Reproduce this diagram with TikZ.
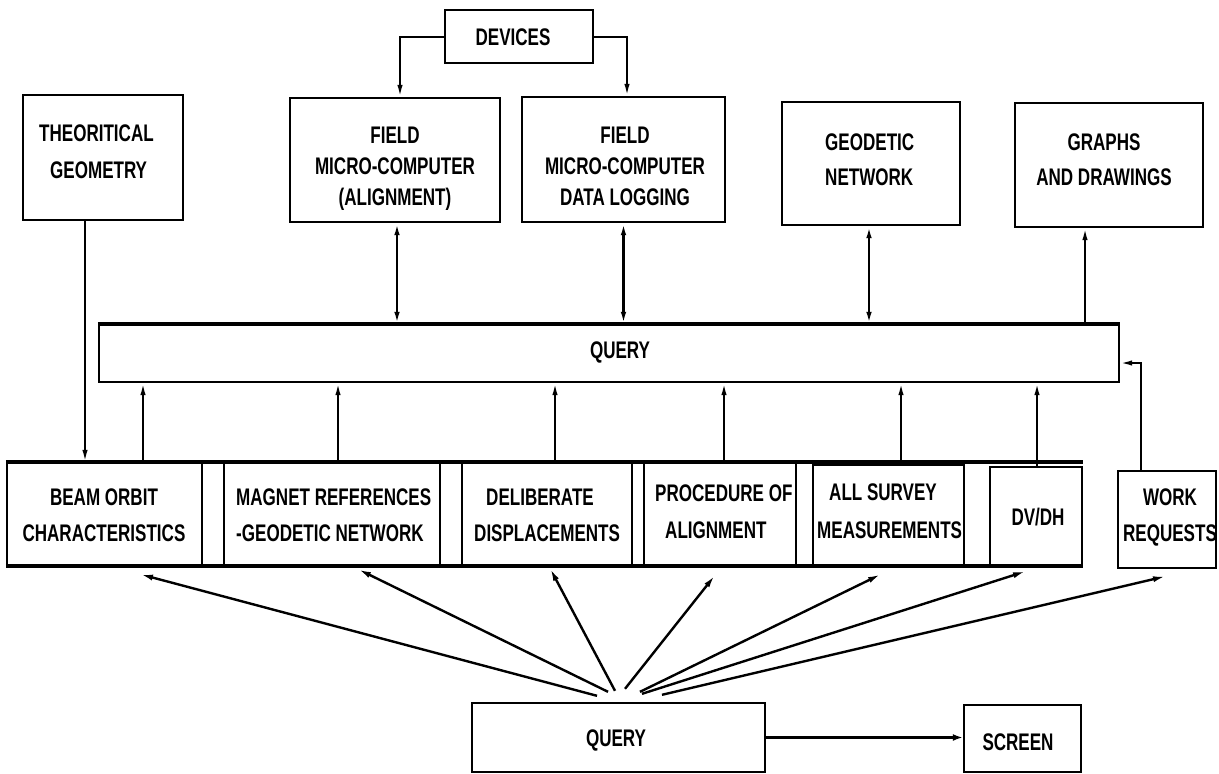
\documentclass[tikz,border=0pt]{standalone}
\usepackage{fontspec}
\setmainfont{Liberation Sans}
\newfontfamily\plot[FakeStretch=0.71]{Liberation Sans}
\newcommand\pf[1]{\fontsize{24pt}{#1pt}\selectfont\plot\bfseries}
\usetikzlibrary{arrows.meta,calc}
\begin{document}
\begin{tikzpicture}[x=1pt,y=-1pt,
  box/.style={draw,line width=2.4pt,inner sep=0pt},
  txt/.style={inner sep=0pt,font=\pf{36}},
  arr/.style={-{Latex[length=12pt,width=5.5pt]},line width=2pt},
  darr/.style={{Latex[length=12pt,width=5.5pt]}-{Latex[length=12pt,width=5.5pt]},line width=2.2pt},
  fan/.style={-{Latex[length=13pt,width=6pt]},line width=2.4pt},
  heavy/.style={line width=3.8pt}]
\useasboundingbox (0,0) rectangle (1219,774);

% top row
\node[box,minimum width=148pt,minimum height=53pt] (dev) at (519,36.5) {};
\node[txt] (devT) at (513,37) {DEVICES};

\node[box,minimum width=160pt,minimum height=125pt] (theo) at (103,157.5) {};
\node[txt,anchor=north west,align=left,font=\pf{37}] (theoT) at (39,124.5) {THEORITICAL\\\hspace*{11pt}GEOMETRY};

\node[box,minimum width=210pt,minimum height=124pt] (f1) at (395,160) {};
\node[txt,anchor=north,align=center,font=\pf{31}] (f1T) at (395,126.5) {FIELD\\MICRO-COMPUTER\\(ALIGNMENT)};

\node[box,minimum width=203pt,minimum height=125pt] (f2) at (623.5,159.5) {};
\node[txt,anchor=north,align=center,font=\pf{31}] (f2T) at (625,126.5) {FIELD\\MICRO-COMPUTER\\DATA LOGGING};

\node[box,minimum width=178pt,minimum height=123pt] (geo) at (871,163.5) {};
\node[txt,anchor=north west,align=left,font=\pf{35}] (geoT) at (825,133.5) {GEODETIC\\NETWORK};

\node[box,minimum width=188pt,minimum height=124pt] (gr) at (1109,165) {};
\node[txt,anchor=north,align=center,font=\pf{35}] (grT) at (1104,133.5) {GRAPHS\\AND DRAWINGS};

% query bar
\node[box,minimum width=1020pt,minimum height=57pt] (bar) at (609,353.5) {};
\draw[line width=4.2pt] (bar.north west) -- (bar.north east);
\node[txt] (barT) at (620,352) {QUERY};

% bottom row
\node[box,minimum width=195pt,minimum height=102pt] (beam) at (104.5,514) {};
\node[txt,anchor=north,align=center] (beamT) at (104,488.5) {BEAM ORBIT\\CHARACTERISTICS};

\node[box,minimum width=216pt,minimum height=102pt] (mag) at (332,514) {};
\node[txt,anchor=north west,align=left] (magT) at (236,488.5) {MAGNET REFERENCES\\-GEODETIC NETWORK};

\node[box,minimum width=170pt,minimum height=102pt] (del) at (547,514) {};
\node[txt,anchor=north west,align=left] (delT) at (474,488.5) {\hspace*{12pt}DELIBERATE\\DISPLACEMENTS};

\node[box,minimum width=152pt,minimum height=102pt] (proc) at (720,514) {};
\node[txt,anchor=north west,align=left,font=\pf{37}] (procT) at (655,484.5) {PROCEDURE OF\\\hspace*{10pt}ALIGNMENT};

\node[box,minimum width=151pt,minimum height=102pt] (surv) at (888.5,516) {};
\node[txt,anchor=north west,align=left,font=\pf{38}] (survT) at (817,483.5) {\hspace*{12pt}ALL SURVEY\\MEASUREMENTS};

\node[box,minimum width=92pt,minimum height=100pt] (dvdh) at (1036,517) {};
\node[txt] (dvdhT) at (1038,517) {DV/DH};

\node[box,minimum width=98pt,minimum height=97pt] (work) at (1167,519.5) {};
\node[txt,anchor=north,align=center] (workT) at (1170,488.5) {WORK\\REQUESTS};

\draw[heavy] (beam.north west) -- (beam.north west -| dvdh.east);
\draw[heavy] (beam.south west) -- (beam.south west -| dvdh.east);

% bottom query and screen
\node[box,minimum width=293pt,minimum height=69pt] (qb) at (618.5,737.5) {};
\node[txt] (qbT) at (616,740) {QUERY};
\node[box,minimum width=117pt,minimum height=67pt] (scr) at (1022.5,738.5) {};
\node[txt] (scrT) at (1018,742) {SCREEN};

% connectors top
\draw[arr] (dev.west) -| ([xshift=5pt]f1.north);
\draw[arr] (dev.east) -| ([xshift=3.5pt]f2.north);
\draw[darr] ([xshift=2pt]f1.south) -- ([xshift=2pt]f1.south |- bar.north);
\draw[darr] (f2.south) -- (f2.south |- bar.north);
\draw[darr] ([xshift=-2pt]geo.south) -- ([xshift=-2pt]geo.south |- bar.north);
\draw[arr] ([xshift=-24pt]gr.south |- bar.north) -- ([xshift=-24pt]gr.south);
\draw[arr] ([xshift=-18pt]theo.south) -- ([xshift=-18pt]theo.south |- beam.north);

% row to bar
\draw[arr] ([xshift=38.5pt]beam.north) -- ([xshift=38.5pt]beam.north |- bar.south);
\draw[arr] ([xshift=6pt]mag.north) -- ([xshift=6pt]mag.north |- bar.south);
\draw[arr] ([xshift=8pt]del.north) -- ([xshift=8pt]del.north |- bar.south);
\draw[arr] ([xshift=4pt]proc.north) -- ([xshift=4pt]proc.north |- bar.south);
\draw[arr] ([xshift=12.5pt]surv.north) -- ([xshift=12.5pt]surv.north |- bar.south);
\draw[arr] ([xshift=1pt]dvdh.north) -- ([xshift=1pt]dvdh.north |- bar.south);
\draw[arr] ([xshift=-26pt]work.north) |- ([yshift=-9.5pt]bar.east);

% fan
\draw[fan] ([xshift=-21.5pt,yshift=6pt]qb.north) -- ([xshift=35.5pt,yshift=-8pt]beam.south);
\draw[fan] ([xshift=-10.5pt,yshift=10pt]qb.north) -- ([xshift=26pt,yshift=-3pt]mag.south);
\draw[fan] ([xshift=-3.5pt,yshift=11pt]qb.north) -- ([xshift=3pt,yshift=-2pt]del.south);
\draw[fan] ([xshift=6.5pt,yshift=13pt]qb.north) -- ([xshift=-5pt,yshift=-9pt]proc.south);
\draw[fan] ([xshift=21.5pt,yshift=10pt]qb.north) -- ([xshift=-7.5pt,yshift=-6pt]surv.south);
\draw[fan] ([xshift=23.5pt,yshift=8pt]qb.north) -- ([xshift=-10pt,yshift=-3pt]dvdh.south);
\draw[fan] ([xshift=43.5pt,yshift=7pt]qb.north) -- ([xshift=-1pt,yshift=-7pt]work.south);

\draw[-{Latex[length=10pt,width=7pt]},line width=3.8pt] (qb.east) -- (qb.east -| scr.west);
\end{tikzpicture}
\end{document}
